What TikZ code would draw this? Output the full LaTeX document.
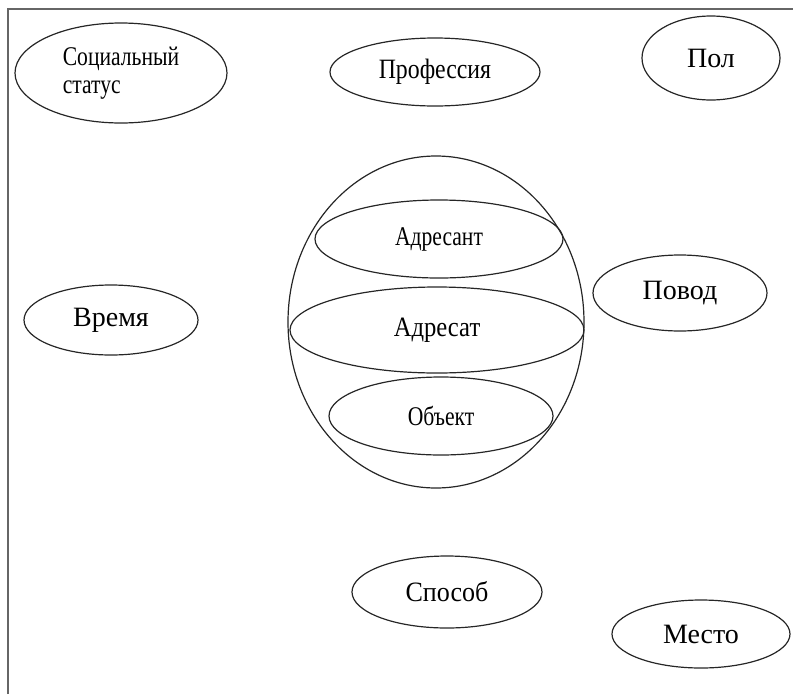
\documentclass[tikz,border=0pt]{standalone}
\usepackage{fontspec}
\setmainfont{Liberation Serif}
\usetikzlibrary{shapes.geometric}
\newcommand\sx[2]{\scalebox{#1}[1]{#2}}
\begin{document}
\begin{tikzpicture}[x=1pt,y=-1pt,
  ell/.style={draw=black!85, line width=1.2pt, ellipse, inner sep=0pt, align=center},
  big/.style={font=\fontsize{28}{32}\selectfont},
  mid/.style={font=\fontsize{27}{28}\selectfont},
  frame/.style={draw=black!60, line width=1.6pt}]
\useasboundingbox (0,0) rectangle (793,694);
\coordinate (fa) at (8,694);
\coordinate (fb) at (8,9);
\coordinate (fc) at (793,9);
\draw[frame] (fa) -- (fb) -- (fc);
\node[ell, mid, minimum width=212pt, minimum height=100pt, align=left] (soc) at (121,73)
  {\sx{0.8}{Социальный}\\\sx{0.8}{статус}};
\node[ell, big, minimum width=210pt, minimum height=68pt] (prof) at (435,72)
  {\sx{0.85}{Профессия}};
\node[ell, big, minimum width=138pt, minimum height=84pt] (pol) at (711,58)
  {Пол};
\node[ell, big, minimum width=174pt, minimum height=70pt] (vrem) at (111,320)
  {Время};
\node[ell, minimum width=296pt, minimum height=332pt] (sph) at (436,322) {};
\node[ell, mid, minimum width=248pt, minimum height=78pt] (adrt) at (439,239)
  {\sx{0.8}{Адресант}};
\node[ell, big, minimum width=294pt, minimum height=86pt] (adr) at (437,330)
  {\sx{0.88}{Адресат}};
\node[ell, mid, minimum width=224pt, minimum height=78pt] (obj) at (441,416)
  {\sx{0.8}{Объект}};
\node[ell, big, minimum width=174pt, minimum height=76pt] (povod) at (680,293)
  {Повод};
\node[ell, big, minimum width=190pt, minimum height=72pt] (spos) at (447,592)
  {\sx{0.93}{Способ}};
\node[ell, big, minimum width=178pt, minimum height=68pt] (mesto) at (701,634)
  {Место};
\end{tikzpicture}
\end{document}
